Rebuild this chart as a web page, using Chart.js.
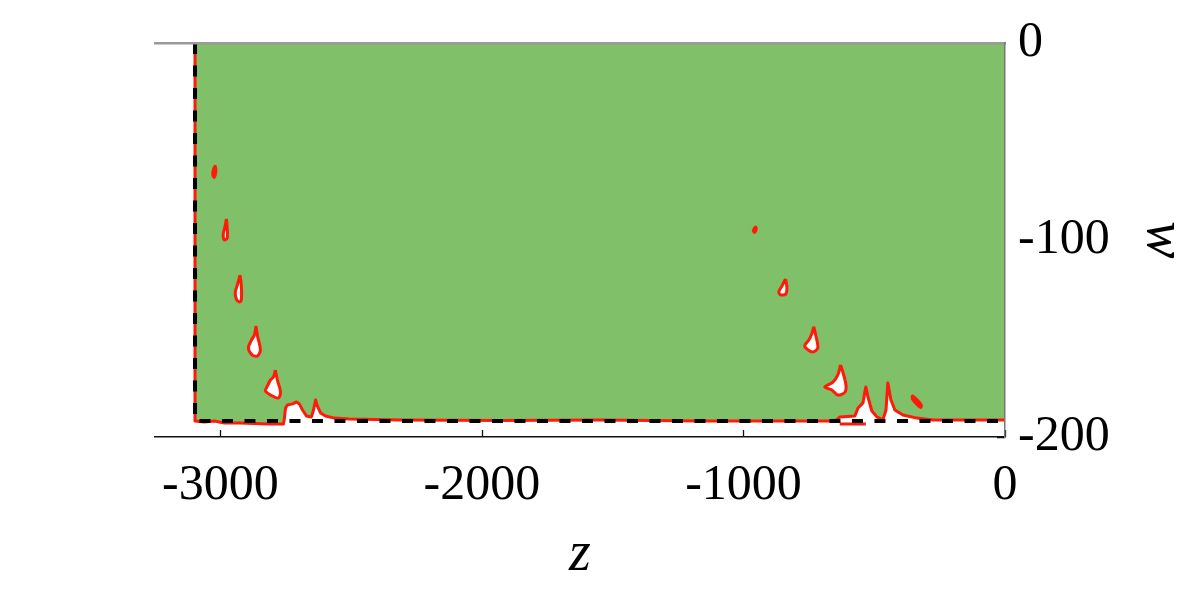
<!DOCTYPE html>
<html>
<head>
<meta charset="utf-8">
<script src="https://cdn.jsdelivr.net/npm/chart.js@4/dist/chart.umd.min.js"></script>
<style>
  html, body { margin: 0; padding: 0; background: #fff; }
  #wrap { width: 1196px; height: 593px; }
</style>
</head>
<body>
<div id="wrap"><canvas id="regionChart" width="1196" height="593"></canvas></div>
<script>
// axis ticks
const zTicks = [-3000, -2000, -1000, 0];
const wTicks = [0, -100, -200];

// left wall and floor of the domain (dashed)
const zLeft = -3097;
const wFloor = -191.9;

// lower edge of the green region (red contour), left to right
const edgeZ = [-3097, -3061, -3023, -2985, -2927, -2870, -2812, -2759, -2755, -2751, -2744, -2724, -2709, -2698,
  -2686, -2671, -2652, -2644, -2636, -2629, -2617, -2598, -2564, -2506, -2315, -1932, -1550, -1167, -784, -650,
  -631, -574, -562, -543, -536, -532, -524, -509, -490, -467, -455, -448, -436, -421, -390, -337, -275, -172, 0];
const edgeW = [-191.9, -192.4, -191.9, -192.9, -192.9, -193.1, -193.4, -193.4, -190.4, -185.3, -183.8, -183.2, -182.2, -183.2,
  -186.3, -189.3, -189.8, -186.3, -181.2, -184.3, -187.8, -189.3, -190.4, -190.9, -191.4, -191.6, -191.4, -191.9, -191.9, -191.9,
  -189.8, -189.3, -185.3, -182.7, -177.2, -174.6, -179.7, -186.8, -189.8, -191.4, -186.3, -172.6, -181.2, -186.3, -188.8, -190.4, -191.4, -191.4, -191.4];

// short piece of contour under the right notch
const notchZ = [-632, -532];
const notchW = [-193.4, -193.4];

// white holes with red outline
const holeZ = [
  [-2977, -2974, -2974, -2985, -2989, -2981, -2977],
  [-2925, -2920, -2920, -2927, -2939, -2943, -2935, -2925],
  [-2864, -2858, -2847, -2858, -2878, -2893, -2881, -2870, -2864],
  [-2790, -2782, -2770, -2778, -2801, -2828, -2820, -2809, -2797, -2790],
  [-839, -834, -838, -857, -865, -853, -839],
  [-731, -723, -716, -735, -762, -765, -750, -739, -731],
  [-629, -620, -608, -612, -639, -662, -689, -658, -639, -629]
];
const holeW = [
  [-89.3, -93.9, -99.0, -100.0, -97.0, -92.4, -89.3],
  [-117.8, -122.8, -130.5, -131.5, -130.0, -126.4, -122.8, -117.8],
  [-143.7, -148.7, -155.8, -158.9, -158.4, -154.8, -150.8, -148.2, -143.7],
  [-166.0, -171.1, -177.2, -180.2, -179.2, -176.6, -174.1, -171.1, -169.5, -166.0],
  [-119.8, -123.9, -127.4, -127.9, -126.4, -123.4, -119.8],
  [-144.0, -148.7, -154.8, -156.9, -154.8, -153.3, -150.8, -147.7, -144.0],
  [-163.4, -167.0, -173.6, -177.2, -178.7, -176.1, -174.6, -172.1, -168.5, -163.4]
];

// tiny solid red specks
const speckZ = [
  [-3019, -3015, -3023, -3031, -3027, -3019],
  [-953, -949, -957, -964, -960, -953],
  [-356, -341, -318, -321, -337, -356, -356]
];
const speckW = [
  [-62.0, -64.5, -68.5, -67.0, -63.5, -62.0],
  [-92.9, -94.4, -96.4, -95.4, -93.9, -92.9],
  [-178.7, -180.2, -183.8, -185.3, -183.8, -180.7, -178.7]
];

const GREEN = "#80c068";
const RED = "#ff1a0a";
const FONT = "'Liberation Serif', 'DejaVu Serif', serif";

const toPts = (zs, ws) => zs.map((z, i) => ({ x: z, y: ws[i] }));

const datasets = [];

// green region
datasets.push({
  data: [{ x: zLeft, y: 0 }, ...toPts(edgeZ, edgeW), { x: 0, y: 0 }],
  fill: "shape",
  backgroundColor: GREEN,
  borderWidth: 0,
  order: 10
});

// red contour along the wall and floor
datasets.push({
  data: [{ x: zLeft, y: 0 }, ...toPts(edgeZ, edgeW)],
  borderColor: RED,
  borderWidth: 3,
  fill: false,
  order: 4
});
datasets.push({
  data: toPts(notchZ, notchW),
  borderColor: RED,
  borderWidth: 3,
  fill: false,
  order: 4
});

holeZ.forEach((zs, i) => {
  datasets.push({
    data: toPts(zs, holeW[i]),
    fill: "shape",
    backgroundColor: "#ffffff",
    borderColor: RED,
    borderWidth: 3,
    tension: 0.3,
    order: 5
  });
});

speckZ.forEach((zs, i) => {
  datasets.push({
    data: toPts(zs, speckW[i]),
    fill: "shape",
    backgroundColor: RED,
    borderColor: RED,
    borderWidth: 2,
    tension: 0.3,
    order: 5
  });
});

// dashed black boundary
datasets.push({
  data: [{ x: zLeft, y: 0 }, { x: zLeft, y: wFloor }, { x: 0, y: wFloor }],
  borderColor: "#000",
  borderWidth: 4,
  borderDash: [11, 11.5],
  fill: false,
  order: 1
});

// small ticks pointing into the frame, drawn under the data
const innerTicks = {
  id: "innerTicks",
  beforeDatasetsDraw(chart) {
    const { ctx, chartArea, scales } = chart;
    ctx.save();
    ctx.strokeStyle = "#111";
    ctx.lineWidth = 1.3;
    ctx.beginPath();
    zTicks.forEach(v => {
      const x = Math.round(scales.x.getPixelForValue(v)) + 0.5;
      ctx.moveTo(x, chartArea.bottom);
      ctx.lineTo(x, chartArea.bottom - 7);
    });
    wTicks.forEach(v => {
      const y = Math.round(scales.y.getPixelForValue(v)) + 0.5;
      ctx.moveTo(chartArea.right, y);
      ctx.lineTo(chartArea.right - 8, y);
    });
    ctx.stroke();
    ctx.restore();
  }
};

const ctx = document.getElementById("regionChart").getContext("2d");
new Chart(ctx, {
  type: "line",
  data: { datasets: datasets },
  options: {
    responsive: false,
    animation: false,
    devicePixelRatio: 1,
    layout: { padding: { left: 155, top: 43, right: 0, bottom: 0 } },
    elements: { point: { radius: 0, hoverRadius: 0 }, line: { borderJoinStyle: "round", borderCapStyle: "butt" } },
    plugins: { legend: { display: false }, tooltip: { enabled: false } },
    scales: {
      x: {
        type: "linear",
        position: "bottom",
        min: -3250,
        max: 0,
        afterBuildTicks: s => { s.ticks = zTicks.map(v => ({ value: v })); },
        afterFit: s => { s.height = 156; },
        grid: { display: false, drawTicks: false },
        border: { display: true, color: "#111", width: 1.5, z: 1 },
        ticks: {
          padding: 19,
          color: "#000",
          maxRotation: 0,
          font: { family: FONT, size: 50 },
          callback: v => String(v)
        },
        title: {
          display: true,
          text: "z",
          color: "#000",
          padding: { top: 0, bottom: 4 },
          font: { family: FONT, size: 56, style: "italic" }
        }
      },
      xTop: {
        type: "linear",
        position: "top",
        min: -3250,
        max: 0,
        afterFit: s => { s.height = 0; },
        grid: { display: false, drawTicks: false },
        border: { display: true, color: "#9a9a9a", width: 2.5, z: 1 },
        ticks: { display: false }
      },
      y: {
        type: "linear",
        position: "right",
        min: -200,
        max: 0,
        afterBuildTicks: s => { s.ticks = wTicks.map(v => ({ value: v })); },
        afterFit: s => { s.width = 191; },
        grid: { display: false, drawTicks: false },
        border: { display: true, color: "#777", width: 1.5, z: 1 },
        ticks: {
          padding: 13,
          color: "#000",
          font: { family: FONT, size: 50 },
          callback: v => String(v)
        },
        title: {
          display: true,
          text: "w",
          color: "#000",
          padding: { top: 0, bottom: 12 },
          font: { family: FONT, size: 56, style: "italic" }
        }
      }
    }
  },
  plugins: [innerTicks]
});
</script>
</body>
</html>
